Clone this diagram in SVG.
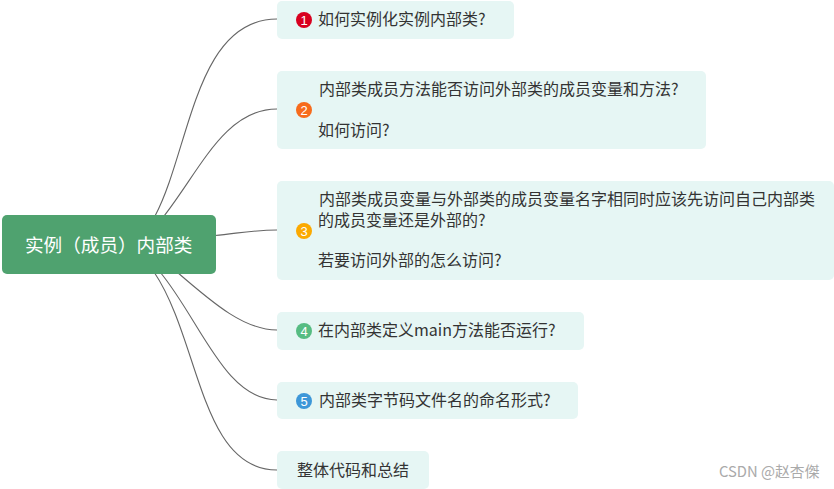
<svg xmlns="http://www.w3.org/2000/svg" width="834" height="489" viewBox="0 0 834 489">
<style>
text{font-family:"Noto Sans CJK SC","Noto Sans",sans-serif}
.n{fill:#e6f6f4}
.t{font-size:16px;fill:#333}
.c{fill:none;stroke:#666;stroke-width:1.100}
.b{font-family:"Liberation Sans",sans-serif;font-size:13px;fill:#fff;text-anchor:middle}
</style>
<rect width="834" height="489" fill="#fff"/>
<g id="connectors">
<path class="c" d="M155 216C190 150 195 19 277 19"/>
<path class="c" d="M164 216C200 170 225 109 277 109"/>
<path class="c" d="M215 235.500C240 233 255 230 277 230"/>
<path class="c" d="M177 272C215 305 245 330 277 330"/>
<path class="c" d="M160 272C200 320 225 400 277 400"/>
<path class="c" d="M154 272C200 340 200 470 277 470"/>
</g>
<g id="root"><rect x="2" y="215" width="214" height="59" rx="5" fill="#4fa26f"/><text x="25" y="252" font-size="18.600" fill="#fff">实例（成员）内部类</text></g>
<g id="node1"><rect class="n" x="277" y="1" width="237" height="38" rx="5"/><circle cx="304" cy="20" r="8" fill="#d8001f"/><text class="b" x="304" y="24.500">1</text><text class="t" x="318" y="25">如何实例化实例内部类?</text></g>
<g id="node2"><rect class="n" x="277" y="71" width="429" height="78" rx="5"/><circle cx="304" cy="110" r="8" fill="#f76b1c"/><text class="b" x="304" y="114.500">2</text><text class="t" x="319" y="95">内部类成员方法能否访问外部类的成员变量和方法?</text><text class="t" x="318" y="136">如何访问?</text></g>
<g id="node3"><rect class="n" x="277" y="181" width="557" height="99" rx="5"/><circle cx="304" cy="231" r="8" fill="#fba900"/><text class="b" x="304" y="235.500">3</text><text class="t" x="319" y="205">内部类成员变量与外部类的成员变量名字相同时应该先访问自己内部类</text><text class="t" x="318" y="226">的成员变量还是外部的?</text><text class="t" x="318" y="266">若要访问外部的怎么访问?</text></g>
<g id="node4"><rect class="n" x="277" y="312" width="307" height="38" rx="5"/><circle cx="304" cy="331" r="8" fill="#56bc82"/><text class="b" x="304" y="335.500">4</text><text class="t" x="318" y="336">在内部类定义main方法能否运行?</text></g>
<g id="node5"><rect class="n" x="277" y="382" width="301" height="37" rx="5"/><circle cx="304" cy="401" r="8" fill="#3d97d8"/><text class="b" x="304" y="405.500">5</text><text class="t" x="319" y="406">内部类字节码文件名的命名形式?</text></g>
<g id="node6"><rect class="n" x="277" y="451" width="152" height="38" rx="5"/><text class="t" x="297" y="476">整体代码和总结</text></g>
<text x="719" y="477" font-size="14.800" fill="#aaa">CSDN @赵杏傑</text>
</svg>
